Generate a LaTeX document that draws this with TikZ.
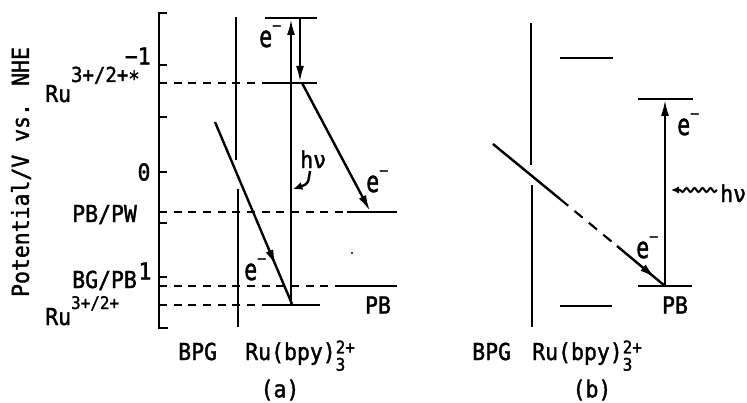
\documentclass[tikz,border=0pt]{standalone}
\usepackage{fontspec}
\setmainfont{DejaVu Sans Mono}[FakeStretch=0.92,FakeBold=1.6]
\usetikzlibrary{arrows.meta,decorations.pathmorphing,decorations.markings}
\newcommand\myup[1]{\raisebox{15pt}{\fontsize{15.5}{15.5}\selectfont #1}}
\newcommand\mylowup[1]{\raisebox{12pt}{\fontsize{13}{13}\selectfont #1}}
\newcommand\emin{\scalebox{0.8}[1]{\fontsize{22}{22}\selectfont e}\raisebox{12pt}{\fontsize{12}{12}\selectfont −}}
\newcommand\stackq{\rlap{\raisebox{-8pt}{\fontsize{13}{13}\selectfont 3}}\raisebox{5pt}{\fontsize{13}{13}\selectfont 2+}}
\begin{document}
\begin{tikzpicture}[x=0.75pt,y=-0.75pt,
  lvl/.style={line width=2pt},
  edgeline/.style={line width=2pt},
  arr/.style={line width=1.8pt,-{Latex[length=12pt,width=6pt]}},
  plainarr/.style={line width=1.8pt},
  dsh/.style={line width=1.1pt,dash pattern=on 6pt off 5pt},
  lab/.style={inner sep=0pt,font=\fontsize{17.5}{17.5}\selectfont},
  midarr/.style={line width=1.8pt,postaction={decorate},
    decoration={markings,mark=at position #1 with {\arrow{Latex[length=12pt,width=6pt]}}}},
]
\useasboundingbox (0,0) rectangle (747,403);

% ---------- panel (a) ----------
% axis
\draw[edgeline] (167,13) -- (159,13) -- (159,328) -- (168,328);
\foreach \yy in {65,117,172,223,277} \draw[edgeline] (159,\yy) -- (167,\yy);
\node[lab,anchor=east] (tm1) at (151,56) {−1};
\node[lab] (t0) at (144,172) {0};
\node[lab] (t1) at (145,271) {1};
\node[lab,rotate=90] (ylab) at (21,172) {Potential/V vs. NHE};

% BPG edge
\draw[edgeline] (236,17) -- (236,160);
\draw[edgeline] (238,189) -- (238,327);

% levels
\coordinate (aTopL) at (265,18); \coordinate (aTopR) at (317,18);
\coordinate (aStL) at (263,83);  \coordinate (aStR) at (317,83);
\coordinate (aGrL) at (267,305); \coordinate (aGrR) at (320,305);
\coordinate (aPWL) at (347,212); \coordinate (aPWR) at (397,212);
\coordinate (aBGL) at (343,286); \coordinate (aBGR) at (397,286);
\draw[lvl] (aTopL) -- (aTopR);
\draw[lvl] (aStL) -- (aStR);
\draw[lvl] (aGrL) -- (aGrR);
\draw[lvl] (aPWL) -- (aPWR);
\draw[lvl] (aBGL) -- (aBGR);

% dashed guide lines
\coordinate (axSt) at (159,83); \coordinate (axPW) at (159,212);
\coordinate (axBG) at (159,286); \coordinate (axGr) at (159,305);
\draw[dsh] (axSt) -- (aStL);
\draw[dsh] (axPW) -- (aPWL);
\draw[dsh] (axBG) -- (aBGL);
\draw[dsh] (axGr) -- (aGrL);

% arrows
\coordinate (aUpB) at (291,305); \coordinate (aUpT) at (291,19);
\draw[arr] (aUpB) -- (aUpT);
\coordinate (aDnT) at (300,19); \coordinate (aDnB) at (300,82);
\draw[arr] (aDnT) -- (aDnB);
\coordinate (aInjS) at (302,83); \coordinate (aInjE) at (370,211);
\draw[arr] (aInjS) -- (aInjE);
\coordinate (aBPGs) at (215,122); \coordinate (aBPGe) at (292,304);
\draw[midarr=0.79] (aBPGs) -- (aBPGe);
\coordinate (aHvS) at (310,171); \coordinate (aHvE) at (293,189);
\draw[line width=1.8pt,-{Latex[length=7pt,width=6pt]}] (aHvS) .. controls (308,184) .. (aHvE);
\fill (352,253) circle (1.2);

% labels (a)
\node[lab,anchor=base west] (lRuSt) at (45,102) {Ru\myup{3+/2+\raisebox{-3pt}{*}}};
\node[lab,anchor=base west] (lPW) at (72,222) {PB/PW};
\node[lab,anchor=base west] (lBG) at (72,288) {BG/PB};
\node[lab,anchor=base west] (lRu) at (45,325) {Ru\mylowup{3+/2+}};
\node[lab,anchor=base west] (e1) at (259,47) {\emin};
\node[lab,anchor=base west] (e2) at (366,192) {\emin};
\node[lab,anchor=base west] (e3) at (244,280) {\emin};
\node[lab,anchor=base west] (hv1) at (300,168) {hν};
\node[lab] (pbA) at (378,305) {PB};
\node[lab,anchor=base west] (bpgA) at (178,360) {BPG};
\node[lab,anchor=base west] (ruA) at (245,360) {Ru(bpy)\stackq};
\node[lab] (capA) at (280,390) {(a)};

% ---------- panel (b) ----------
\draw[edgeline] (531,23) -- (531,165);
\draw[edgeline] (532,185) -- (532,327);
\coordinate (bRuTL) at (560,58);  \coordinate (bRuTR) at (613,58);
\coordinate (bRuBL) at (560,306); \coordinate (bRuBR) at (612,306);
\coordinate (bPBTL) at (638,99);  \coordinate (bPBTR) at (693,99);
\coordinate (bPBL) at (638,286);  \coordinate (bPBR) at (692,286);
\draw[lvl] (bRuTL) -- (bRuTR);
\draw[lvl] (bRuBL) -- (bRuBR);
\draw[lvl] (bPBTL) -- (bPBTR);
\draw[lvl] (bPBL) -- (bPBR);

\coordinate (bExB) at (665,286); \coordinate (bExT) at (665,100);
\draw[arr,line width=1.5pt] (bExB) -- (bExT);
\coordinate (bD0) at (493,144); \coordinate (bD1) at (560,199);
\coordinate (bD2) at (617,246); \coordinate (bD3) at (665,286);
\draw[plainarr] (bD0) -- (bD1);
\draw[line width=1.6pt,dash pattern=on 8pt off 6pt] (bD1) -- (bD2);
\draw[midarr=0.8] (bD2) -- (bD3);

\coordinate (bWs) at (717,190); \coordinate (bWe) at (671,190);
\draw[line width=1.5pt,-{Latex[length=6pt,width=5.5pt]},decorate,
  decoration={snake,amplitude=1.5pt,segment length=6pt,post length=5pt}] (bWs) -- (bWe);

\node[lab,anchor=base west] (e4) at (677,135) {\emin};
\node[lab,anchor=base west] (e5) at (636,258) {\emin};
\node[lab,anchor=base west] (hv2) at (720,202) {hν};
\node[lab] (pbB) at (675,305) {PB};
\node[lab,anchor=base west] (bpgB) at (472,360) {BPG};
\node[lab,anchor=base west] (ruB) at (532,360) {Ru(bpy)\stackq};
\node[lab] (capB) at (592,390) {(b)};
\end{tikzpicture}
\end{document}
